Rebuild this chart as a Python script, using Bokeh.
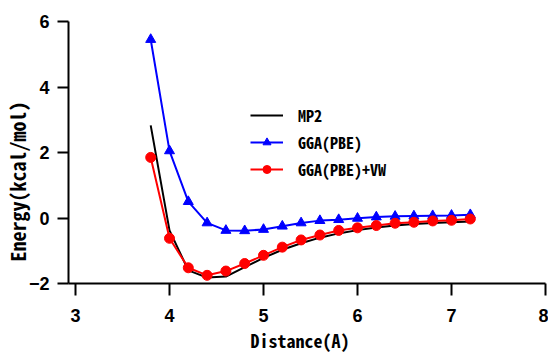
from bokeh.plotting import figure
from bokeh.models import Legend, LegendItem, Title, FixedTicker, Range1d
from bokeh.embed import file_html
from bokeh.resources import INLINE

# Data
distance = [3.8, 4.0, 4.2, 4.4, 4.6, 4.8, 5.0, 5.2, 5.4, 5.6, 5.8, 6.0, 6.2, 6.4, 6.6, 6.8, 7.0, 7.2]
mp2 = [2.83, -0.38, -1.60, -1.82, -1.79, -1.50, -1.22, -0.97, -0.77, -0.60, -0.47, -0.37, -0.29, -0.23, -0.18, -0.15, -0.13, -0.11]
gga_pbe = [5.45, 2.05, 0.50, -0.15, -0.38, -0.39, -0.35, -0.25, -0.15, -0.08, -0.05, -0.01, 0.03, 0.05, 0.06, 0.07, 0.08, 0.10]
gga_pbe_vw = [1.85, -0.62, -1.52, -1.75, -1.62, -1.39, -1.14, -0.89, -0.67, -0.52, -0.38, -0.30, -0.23, -0.16, -0.13, -0.09, -0.07, -0.03]

x_ticks = [3, 4, 5, 6, 7, 8]
y_ticks = [-2, 0, 2, 4, 6]

FONT = "Liberation Sans"
MONO = "Noto Sans Mono CJK SC"

p = figure(width=548, height=352, output_backend="svg", toolbar_location=None,
           x_range=Range1d(2.9255, 8.0), y_range=Range1d(-2, 6),
           min_border_left=68, min_border_right=3, min_border_top=21, min_border_bottom=67)
p.outline_line_color = None
p.xgrid.grid_line_color = None
p.ygrid.grid_line_color = None
p.background_fill_color = "white"
p.border_fill_color = "white"

for ax in (p.xaxis[0], p.yaxis[0]):
    ax.axis_line_width = 2
    ax.axis_line_color = "black"
    ax.major_tick_line_width = 2
    ax.major_tick_line_color = "black"
    ax.major_tick_in = 0
    ax.minor_tick_line_color = None
    ax.major_label_text_font = FONT
    ax.major_label_text_font_style = "bold"
    ax.major_label_text_font_size = "18px"
    ax.major_label_text_color = "black"

p.xaxis[0].ticker = FixedTicker(ticks=x_ticks)
p.yaxis[0].ticker = FixedTicker(ticks=y_ticks)
p.xaxis[0].major_tick_out = 12
p.yaxis[0].major_tick_out = 11
p.xaxis[0].major_label_standoff = 13
p.yaxis[0].major_label_standoff = 8

r_mp2 = p.line(distance, mp2, line_color="black", line_width=2)
r_pbe_l = p.line(distance, gga_pbe, line_color="#0000FF", line_width=2)
r_pbe_m = p.scatter(distance, gga_pbe, marker="triangle", size=10,
                    fill_color="#0000FF", line_color="#0000FF")
r_vw_l = p.line(distance, gga_pbe_vw, line_color="#FF0000", line_width=2)
r_vw_m = p.scatter(distance, gga_pbe_vw, marker="circle", size=10,
                   fill_color="#FF0000", line_color="#FF0000")

legend = Legend(items=[
    LegendItem(label="MP2", renderers=[r_mp2]),
    LegendItem(label="GGA(PBE)", renderers=[r_pbe_l, r_pbe_m]),
    LegendItem(label="GGA(PBE)+VW", renderers=[r_vw_l, r_vw_m]),
], location=(182, 102))
legend.border_line_color = None
legend.background_fill_alpha = 0
legend.padding = 0
legend.margin = 0
legend.spacing = 3
legend.glyph_width = 33
legend.glyph_height = 20
legend.label_height = 20
legend.label_standoff = 15
legend.label_text_font = MONO
legend.label_text_font_style = "bold"
legend.label_text_font_size = "16px"
legend.label_text_color = "black"
p.add_layout(legend, "center")

ytitle = Title(text="Energy(kcal/mol)", align="left", offset=22, standoff=-12,
               text_font=MONO, text_font_style="bold", text_font_size="20px",
               text_color="black")
p.add_layout(ytitle, "left")

xtitle = Title(text="Distance(A)", align="left", offset=182, standoff=0,
               text_font=MONO, text_font_style="bold", text_font_size="18px",
               text_color="black")
p.add_layout(xtitle, "below")

open("out.html", "w").write(file_html(p, INLINE))
